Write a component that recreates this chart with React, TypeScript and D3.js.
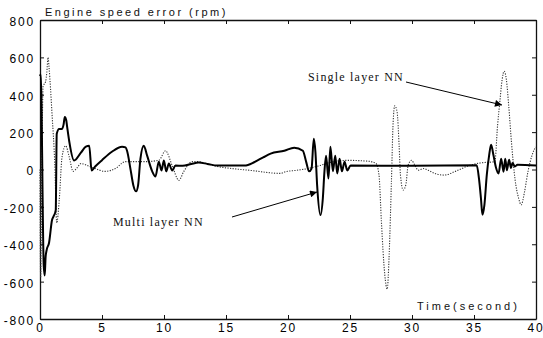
import { useEffect, useRef } from "react";
import * as d3 from "d3";

// tick values
const xTicks = [0, 5, 10, 15, 20, 25, 30, 35, 40];
const yTicks = [-800, -600, -400, -200, 0, 200, 400, 600, 800];

// Multi layer NN (solid) : [time (s), error (rpm)]
const multiLayer: [number, number][] = [
    [0, 500], [0.06, 509], [0.3, -515], [0.38, -567], [0.45, -470], [0.54, -430], [0.73, -392],
    [0.97, -270], [1.1, -250], [1.27, -217], [1.35, 191], [1.54, 217], [1.78, 217], [1.9, 240],
    [2.0, 281], [2.12, 262], [2.19, 228], [2.35, 154], [2.75, 48], [3.3, 90], [3.7, 122],
    [3.97, 127], [4.16, -5], [4.45, 16], [5.0, 50], [5.8, 95], [6.62, 122], [6.9, 118],
    [7.02, 100], [7.29, 5], [7.53, -85], [7.75, -117], [7.91, -85], [8.1, 58], [8.37, 127],
    [8.64, 74], [9.05, -10], [9.31, -37], [9.58, 42], [9.8, -5], [9.99, 48], [10.18, -10],
    [10.39, 32], [10.66, -5], [10.93, 21], [11.5, 20], [12.2, 30], [12.8, 37], [13.5, 30],
    [14.3, 21], [16.5, 21], [17.3, 40], [18.0, 65], [18.6, 85], [19.7, 100], [20.5, 117],
    [21.2, 100], [21.46, 42], [21.7, -10], [21.9, 5], [22.08, 164], [22.21, 95], [22.35, -85],
    [22.62, -244], [22.81, -154], [22.94, -10], [23.07, 74], [23.26, -48], [23.42, 122],
    [23.62, -10], [23.81, 74], [23.97, -21], [24.16, 58], [24.35, -10], [24.56, 42],
    [24.78, -5], [25.05, 21], [30, 20], [35.22, 23], [35.4, -48], [35.56, -154], [35.68, -242],
    [35.84, -189], [36.03, -30], [36.22, 76], [36.38, 132], [36.57, 76], [36.76, 14],
    [36.98, -21], [37.19, 58], [37.38, -12], [37.52, 58], [37.65, -4], [37.83, 52], [37.98, 8],
    [38.1, 35], [38.3, 16], [38.5, 25], [40, 22],
];

// Single layer NN (dotted)
const singleLayer: [number, number][] = [
    [0, 0], [0.05, -580], [0.12, -200], [0.2, 300], [0.25, 445], [0.45, 470], [0.55, 520],
    [0.65, 600], [0.73, 546], [0.97, 297], [1.19, 32], [1.35, -286], [1.55, -164], [1.78, 69],
    [2.07, 127], [2.35, 69], [2.67, -10], [3.0, 10], [3.3, 32], [4.0, 16], [4.45, 5],
    [5.27, -10], [6.07, 5], [6.88, 42], [7.7, 42], [8.5, 42], [9.6, 50], [10.12, 100],
    [10.66, 21], [11.2, -58], [11.6, -10], [12.28, 42], [12.8, 42], [13.4, 32], [14.3, 16],
    [15.5, 5], [17, -5], [19.4, -21], [19.8, -12], [20.6, -5], [21.6, 5], [22.5, 20],
    [23.5, 40], [24.8, 49], [26.5, 44], [27.1, 32], [27.34, -30], [27.53, -276], [27.8, -560],
    [28.0, -640], [28.16, -454], [28.34, -64], [28.48, 254], [28.61, 341], [28.8, 307],
    [28.96, 129], [29.07, -30], [29.29, -110], [29.5, -83], [29.69, 23], [29.96, 49],
    [30.23, 23], [30.5, -4], [30.9, 5], [31.3, -4], [31.84, -21], [32.6, -30], [33.5, -10],
    [34.6, 21], [35.5, 35], [36.68, 42], [36.9, 235], [37.08, 360], [37.27, 482], [37.43, 526],
    [37.61, 482], [37.8, 341], [38.02, 147], [38.3, -48], [38.6, -154], [38.81, -189],
    [39.08, -118], [39.35, -12], [39.68, 76], [39.95, 120],
];

function EngineSpeedChart() {
    const ref = useRef<SVGSVGElement>(null);

    useEffect(() => {
        const width = 543, height = 338;
        const margin = {top: 20, right: 7, bottom: 19, left: 40};
        const svg = d3.select(ref.current);
        svg.selectAll("*").remove();

        const x = d3.scaleLinear().domain([0, 40]).range([margin.left, width - margin.right]);
        const y = d3.scaleLinear().domain([-800, 800]).range([height - margin.bottom, margin.top]);

        const font = "'Liberation Sans', Arial, sans-serif";
        const serif = "'Liberation Serif', 'Times New Roman', serif";

        // frame with inward ticks on all four sides
        const styleAxis = (g: any) => {
            g.select(".domain").attr("stroke", "#111").attr("stroke-width", 1.3);
            g.selectAll(".tick line").attr("stroke", "#111").attr("stroke-width", 1);
            g.selectAll("text")
                .attr("font-family", font)
                .attr("font-size", 12)
                .attr("letter-spacing", 1.8)
                .attr("fill", "#000");
        };

        const gx = svg.append("g")
            .attr("transform", `translate(0,${y(-800)})`)
            .call(d3.axisBottom(x).tickValues(xTicks).tickSizeInner(-4).tickSizeOuter(0)
                .tickPadding(4).tickFormat((d: any) => String(d)))
            .call(styleAxis);
        // last label sits at the page edge: keep it inside
        gx.selectAll(".tick text").filter((d: any) => d === 40)
            .attr("text-anchor", "end").attr("x", 8);

        svg.append("g")
            .attr("transform", `translate(0,${y(800)})`)
            .call(d3.axisTop(x).tickValues(xTicks).tickSizeInner(-4).tickSizeOuter(0).tickFormat(() => ""))
            .call(styleAxis);

        svg.append("g")
            .attr("transform", `translate(${x(0)},0)`)
            .call(d3.axisLeft(y).tickValues(yTicks).tickSizeInner(-4).tickSizeOuter(0)
                .tickPadding(5).tickFormat((d: any) => String(d)))
            .call(styleAxis)
            .selectAll("text").attr("dy", "0.45em");

        svg.append("g")
            .attr("transform", `translate(${x(40)},0)`)
            .call(d3.axisRight(y).tickValues(yTicks).tickSizeInner(-4).tickSizeOuter(0).tickFormat(() => ""))
            .call(styleAxis);

        const line = d3.line<[number, number]>()
            .x(d => x(d[0]))
            .y(d => y(d[1]))
            .curve(d3.curveMonotoneX);

        svg.append("path")
            .datum(singleLayer)
            .attr("d", line)
            .attr("fill", "none")
            .attr("stroke", "#333")
            .attr("stroke-width", 1.1)
            .attr("stroke-dasharray", "1.2,1.4");

        svg.append("path")
            .datum(multiLayer)
            .attr("d", line)
            .attr("fill", "none")
            .attr("stroke", "#000")
            .attr("stroke-width", 2)
            .attr("stroke-linejoin", "round");

        // titles
        svg.append("text")
            .attr("x", 45).attr("y", 16)
            .text("Engine speed error (rpm)")
            .attr("font-family", font).attr("font-size", 11)
            .attr("letter-spacing", 2.5).attr("fill", "#111");

        svg.append("text")
            .attr("x", 417).attr("y", 310)
            .text("Time(second)")
            .attr("font-family", font).attr("font-size", 11)
            .attr("letter-spacing", 3).attr("fill", "#111");

        // annotations with arrows
        svg.append("defs").append("marker")
            .attr("id", "arrowhead")
            .attr("viewBox", "0 0 10 10")
            .attr("refX", 10).attr("refY", 5)
            .attr("markerWidth", 11).attr("markerHeight", 7)
            .attr("markerUnits", "userSpaceOnUse")
            .attr("orient", "auto")
            .append("path").attr("d", "M0,0 L10,5 L0,10 Z").attr("fill", "#000");

        const notes = [
            {label: "Single layer NN", tx: 308, ty: 81, x1: 406, y1: 82, x2: 502, y2: 105},
            {label: "Multi layer NN", tx: 113, ty: 226, x1: 232, y1: 217, x2: 317, y2: 192},
        ];
        notes.forEach(n => {
            svg.append("text")
                .attr("x", n.tx).attr("y", n.ty)
                .text(n.label)
                .attr("font-family", serif).attr("font-size", 12)
                .attr("letter-spacing", 1.2).attr("fill", "#111");
            svg.append("line")
                .attr("x1", n.x1).attr("y1", n.y1).attr("x2", n.x2).attr("y2", n.y2)
                .attr("stroke", "#000").attr("stroke-width", 1)
                .attr("marker-end", "url(#arrowhead)");
        });
    }, []);

    return <svg ref={ref} width={543} height={338}
                style={{position: "absolute", left: 0, top: 0, background: "#fff"}}></svg>;
}

export default function App() {
    return <EngineSpeedChart/>;
}
